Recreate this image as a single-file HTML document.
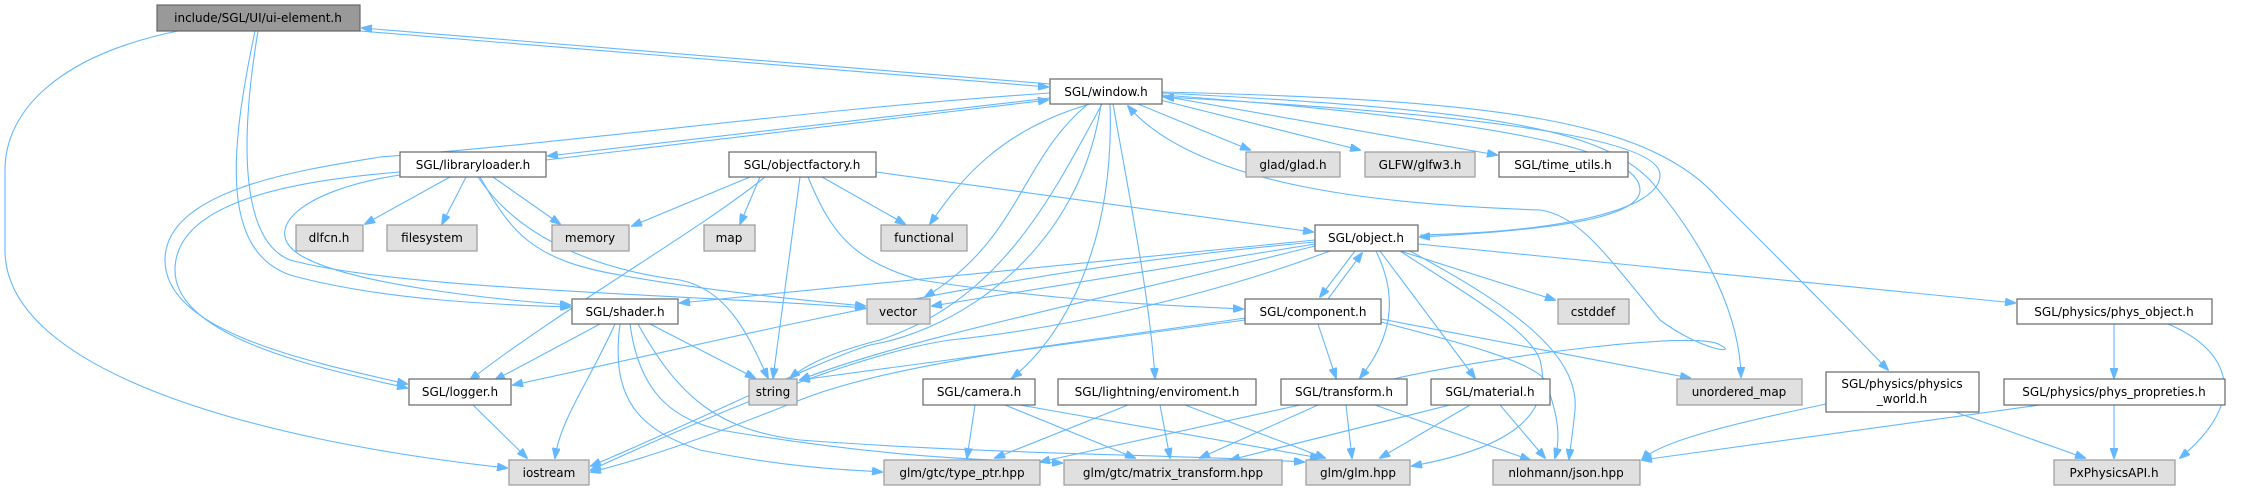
<!DOCTYPE html>
<html><head><meta charset="utf-8"><style>
html,body{margin:0;padding:0;background:#fff;}
svg{display:block;}
text{font-family:"DejaVu Sans","Liberation Sans",sans-serif;font-size:12px;fill:#000;}
.e{fill:none;stroke:#63b8ff;stroke-width:1.1;marker-end:url(#a);}
.n{fill:#fff;stroke:#666;stroke-width:1.2;}
.g{fill:#e0e0e0;stroke:#999;stroke-width:1.2;}
</style></head><body>
<svg width="2247" height="491" viewBox="0 0 2247 491" xmlns="http://www.w3.org/2000/svg">
<defs><marker id="a" markerWidth="11" markerHeight="8" refX="10" refY="4" orient="auto" markerUnits="userSpaceOnUse"><path d="M0,0 L11,4 L0,8 z" fill="#63b8ff" stroke="#63b8ff"/></marker></defs>
<g>
<path class="e" d="M1050,84 L362,28"/>
<path class="e" d="M360,31 L1048,87"/>
<path class="e" d="M178,31 C60,55 5,110 5,170 L5,250 C5,370 250,440 507,468"/>
<path class="e" d="M255,31 C230,150 220,250 290,275 C380,300 500,305 570,307"/>
<path class="e" d="M258,31 C240,140 240,240 290,260 C400,290 700,295 865,308"/>
<path class="e" d="M1050,98 L548,156"/>
<path class="e" d="M546,160 L1048,100"/>
<path class="e" d="M1050,93 C800,110 600,140 380,157 C300,170 165,190 165,260 C165,330 300,360 407,384"/>
<path class="e" d="M400,172 C300,180 175,200 175,270 C175,340 330,370 407,388"/>
<path class="e" d="M450,177 L365,224"/>
<path class="e" d="M466,177 L442,224"/>
<path class="e" d="M493,177 L560,224"/>
<path class="e" d="M400,175 C300,190 260,230 300,255 C350,285 500,300 570,305"/>
<path class="e" d="M480,177 C510,230 530,260 620,275 C700,290 800,300 865,306"/>
<path class="e" d="M478,177 C520,240 600,270 680,280 C730,290 750,340 768,378"/>
<path class="e" d="M750,177 L632,226"/>
<path class="e" d="M760,177 L740,224"/>
<path class="e" d="M822,177 L905,224"/>
<path class="e" d="M765,177 C700,230 560,310 470,380"/>
<path class="e" d="M800,177 L773,378"/>
<path class="e" d="M876,172 L1313,232"/>
<path class="e" d="M808,177 C830,230 850,260 920,280 C1050,300 1150,305 1243,309"/>
<path class="e" d="M1090,104 C1000,130 960,180 930,224"/>
<path class="e" d="M1088,104 C1020,160 1020,240 925,297"/>
<path class="e" d="M1102,104 C1050,200 1000,300 880,340 C820,355 800,370 790,378"/>
<path class="e" d="M1101,104 C1080,250 960,330 870,345 C820,360 700,420 591,466"/>
<path class="e" d="M1110,104 C1115,250 1060,340 1012,378"/>
<path class="e" d="M1113,104 C1130,200 1150,300 1155,378"/>
<path class="e" d="M1138,104 L1250,150"/>
<path class="e" d="M1160,100 L1360,150"/>
<path class="e" d="M1162,96 L1497,155"/>
<path class="e" d="M1162,93 C1500,110 1600,130 1650,180 C1710,250 1740,320 1741,377"/>
<path class="e" d="M1162,92 C1500,100 1650,120 1720,200 C1800,280 1850,330 1888,370"/>
<path class="e" d="M1162,95 C1500,120 1640,150 1640,190 C1640,225 1500,232 1420,237"/>
<path class="e" d="M1420,235 C1560,232 1660,210 1660,175 C1660,140 1500,115 1164,97"/>
<path class="e" d="M1393,379 C1500,355 1700,330 1720,345 C1740,355 1700,350 1660,320 C1610,260 1580,215 1540,210 C1400,205 1200,190 1128,106"/>
<path class="e" d="M1355,251 L1320,297"/>
<path class="e" d="M1328,299 L1362,253"/>
<path class="e" d="M1315,244 L932,306"/>
<path class="e" d="M1315,246 C1100,300 900,340 800,380"/>
<path class="e" d="M1330,251 C1200,300 1050,330 950,340 C850,355 700,420 591,470"/>
<path class="e" d="M1315,242 C1000,270 770,330 513,385"/>
<path class="e" d="M1315,240 L680,303"/>
<path class="e" d="M1400,251 L1555,300"/>
<path class="e" d="M1418,244 L2015,303"/>
<path class="e" d="M1376,251 C1400,300 1390,340 1360,378"/>
<path class="e" d="M1380,251 L1475,378"/>
<path class="e" d="M1400,251 C1460,290 1530,330 1540,360 C1555,420 1500,450 1412,466"/>
<path class="e" d="M1410,251 C1500,300 1580,350 1575,410 C1572,440 1570,450 1569,459"/>
<path class="e" d="M1245,320 L800,380"/>
<path class="e" d="M1245,318 C1100,340 900,360 800,400 C700,440 640,460 591,472"/>
<path class="e" d="M1318,324 L1336,378"/>
<path class="e" d="M1381,319 L1690,378"/>
<path class="e" d="M1381,322 C1450,340 1530,360 1545,380 C1560,420 1560,440 1555,458"/>
<path class="e" d="M600,324 L495,380"/>
<path class="e" d="M650,324 L755,378"/>
<path class="e" d="M615,324 C590,380 560,420 555,458"/>
<path class="e" d="M620,324 C610,400 640,430 700,450 C800,470 860,470 882,472"/>
<path class="e" d="M630,324 C640,400 680,420 720,430 C900,460 1000,460 1062,463"/>
<path class="e" d="M638,324 C680,400 720,430 800,440 C1000,455 1200,455 1304,462"/>
<path class="e" d="M473,405 L527,458"/>
<path class="e" d="M975,405 L967,458"/>
<path class="e" d="M1005,405 L1135,458"/>
<path class="e" d="M1020,405 L1320,458"/>
<path class="e" d="M1128,405 L995,458"/>
<path class="e" d="M1160,405 L1170,458"/>
<path class="e" d="M1185,405 L1325,458"/>
<path class="e" d="M1300,405 L1040,462"/>
<path class="e" d="M1318,405 L1200,458"/>
<path class="e" d="M1346,405 L1352,458"/>
<path class="e" d="M1375,405 L1530,460"/>
<path class="e" d="M1450,405 L1230,460"/>
<path class="e" d="M1470,405 L1380,458"/>
<path class="e" d="M1500,405 L1545,458"/>
<path class="e" d="M1826,404 C1750,420 1660,440 1642,460"/>
<path class="e" d="M1955,412 L2085,458"/>
<path class="e" d="M2114,324 L2114,378"/>
<path class="e" d="M2168,324 C2230,350 2250,400 2180,458"/>
<path class="e" d="M2114,405 L2114,458"/>
<path class="e" d="M2040,405 L1642,460"/>
</g>
<g>
<rect x="157" y="5" width="203" height="26" fill="#999" stroke="#666" stroke-width="1.2"/><text x="258" y="22" text-anchor="middle">include/SGL/UI/ui-element.h</text>
<rect class="n" x="1050" y="79" width="112" height="25"/><text x="1106" y="96" text-anchor="middle">SGL/window.h</text>
<rect class="n" x="400" y="152" width="146" height="25"/><text x="473" y="169" text-anchor="middle">SGL/libraryloader.h</text>
<rect class="n" x="729" y="152" width="147" height="25"/><text x="802" y="169" text-anchor="middle">SGL/objectfactory.h</text>
<rect class="g" x="1246" y="152" width="94" height="25"/><text x="1293" y="169" text-anchor="middle">glad/glad.h</text>
<rect class="g" x="1365" y="152" width="110" height="25"/><text x="1420" y="169" text-anchor="middle">GLFW/glfw3.h</text>
<rect class="n" x="1499" y="152" width="129" height="25"/><text x="1563" y="169" text-anchor="middle">SGL/time_utils.h</text>
<rect class="g" x="296" y="225" width="67" height="26"/><text x="329" y="242" text-anchor="middle">dlfcn.h</text>
<rect class="g" x="387" y="225" width="90" height="26"/><text x="432" y="242" text-anchor="middle">filesystem</text>
<rect class="g" x="552" y="225" width="77" height="26"/><text x="590" y="242" text-anchor="middle">memory</text>
<rect class="g" x="704" y="225" width="51" height="26"/><text x="729" y="242" text-anchor="middle">map</text>
<rect class="g" x="881" y="225" width="86" height="26"/><text x="924" y="242" text-anchor="middle">functional</text>
<rect class="n" x="1315" y="225" width="103" height="26"/><text x="1366" y="242" text-anchor="middle">SGL/object.h</text>
<rect class="n" x="572" y="299" width="106" height="25"/><text x="625" y="316" text-anchor="middle">SGL/shader.h</text>
<rect class="g" x="867" y="299" width="63" height="25"/><text x="898" y="316" text-anchor="middle">vector</text>
<rect class="n" x="1245" y="299" width="136" height="25"/><text x="1313" y="316" text-anchor="middle">SGL/component.h</text>
<rect class="g" x="1558" y="299" width="71" height="25"/><text x="1593" y="316" text-anchor="middle">cstddef</text>
<rect class="n" x="2017" y="299" width="195" height="25"/><text x="2114" y="316" text-anchor="middle">SGL/physics/phys_object.h</text>
<rect class="n" x="409" y="379" width="102" height="26"/><text x="460" y="396" text-anchor="middle">SGL/logger.h</text>
<rect class="g" x="749" y="379" width="48" height="26"/><text x="773" y="396" text-anchor="middle">string</text>
<rect class="n" x="923" y="379" width="112" height="26"/><text x="979" y="396" text-anchor="middle">SGL/camera.h</text>
<rect class="n" x="1058" y="379" width="198" height="26"/><text x="1157" y="396" text-anchor="middle">SGL/lightning/enviroment.h</text>
<rect class="n" x="1281" y="379" width="126" height="26"/><text x="1344" y="396" text-anchor="middle">SGL/transform.h</text>
<rect class="n" x="1431" y="379" width="119" height="26"/><text x="1490" y="396" text-anchor="middle">SGL/material.h</text>
<rect class="g" x="1677" y="379" width="125" height="26"/><text x="1739" y="396" text-anchor="middle">unordered_map</text>
<rect class="n" x="1826" y="372" width="153" height="40"/><text x="1902" y="388" text-anchor="middle">SGL/physics/physics</text><text x="1902" y="403" text-anchor="middle">_world.h</text>
<rect class="n" x="2004" y="379" width="221" height="26"/><text x="2114" y="396" text-anchor="middle">SGL/physics/phys_propreties.h</text>
<rect class="g" x="509" y="460" width="80" height="25"/><text x="549" y="477" text-anchor="middle">iostream</text>
<rect class="g" x="884" y="460" width="156" height="25"/><text x="962" y="477" text-anchor="middle">glm/gtc/type_ptr.hpp</text>
<rect class="g" x="1064" y="460" width="218" height="25"/><text x="1173" y="477" text-anchor="middle">glm/gtc/matrix_transform.hpp</text>
<rect class="g" x="1306" y="460" width="104" height="25"/><text x="1358" y="477" text-anchor="middle">glm/glm.hpp</text>
<rect class="g" x="1493" y="460" width="147" height="25"/><text x="1566" y="477" text-anchor="middle">nlohmann/json.hpp</text>
<rect class="g" x="2054" y="460" width="121" height="25"/><text x="2114" y="477" text-anchor="middle">PxPhysicsAPI.h</text>
</g>
</svg>
</body></html>
